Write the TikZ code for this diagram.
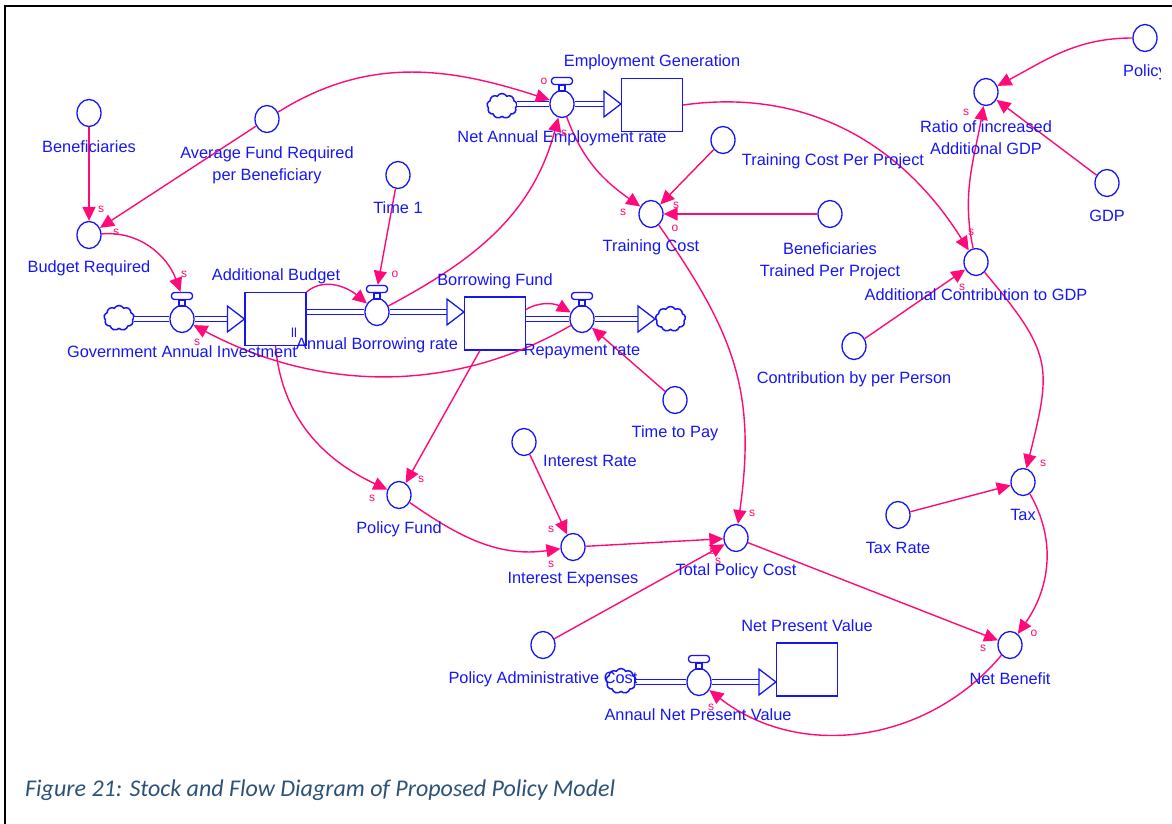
\documentclass[tikz,border=0pt]{standalone}
\usepackage{fontspec}
\setmainfont{Liberation Sans}
\newfontfamily\capfont{Carlito}
\usetikzlibrary{calc}
\usetikzlibrary{arrows.meta}
\usetikzlibrary{shapes.geometric,shapes.symbols}
\definecolor{flowblue}{RGB}{22,22,245}
\definecolor{linkpink}{RGB}{255,10,120}
\definecolor{capblue}{RGB}{44,82,120}
\tikzset{
 aux/.style={draw=flowblue, fill=white, line width=1.3pt, ellipse, inner sep=0, minimum width=24, minimum height=27},
 stock/.style={draw=flowblue, fill=white, line width=1.2pt, rectangle, inner sep=0, minimum width=61, minimum height=53},
 handle/.style={draw=flowblue, fill=white, line width=1.3pt, rectangle, rounded corners=3pt, inner sep=0, minimum width=21, minimum height=7},
 source/.style={draw=flowblue, line width=1.5pt, cloud, cloud puffs=9, cloud puff arc=120, aspect=1.3, inner sep=0, minimum width=30, minimum height=25},
 pipe/.style={draw=flowblue, line width=1.3pt, double=white, double distance=3.5pt},
 flowtip/.style={draw=flowblue, fill=white, line width=1.3pt},
 link/.style={draw=linkpink, line width=1.4pt, -{Triangle[length=14pt, width=13pt]}},
 varname/.style={text=flowblue, font=\fontsize{16.35}{22}\selectfont, align=center, inner sep=0, yshift=-1pt},
 polarity/.style={text=linkpink, font=\fontsize{12}{12}\selectfont, inner sep=0},
}
\begin{document}
\begin{tikzpicture}[x=1pt, y=-1pt]
\useasboundingbox (0,0) rectangle (1172,824);
\draw[black, line width=1.6pt] (5,824) -- (5,6) -- (1172,6);
\node[source] (cgai) at (119,318) {};
\node[source] (cnae) at (502,106) {};
\node[source] (crep) at (670.5,319) {};
\node[source] (cnpv) at (621,681) {};
\foreach \n/\x/\y in {gai/182/319, abr/377/312, rep/582/319, nae/562/104, anpv/699/682} {
 \node[aux] (\n) at (\x,\y) {};
 \node[handle] (\n-h) at (\x,\y-23) {};
 \draw[flowblue, line width=1.3pt] ($(\n-h.south)+(-3,0)$) rectangle ($(\n-h.south)+(3,6)$);
}
\foreach \n/\x/\y in {ab/275.5/319, bf/495/323.5, emp/652/105, npv/807/669.5} {
 \node[stock] (\n) at (\x,\y) {};
}
\foreach \a/\b in {cgai/gai, cnae/nae, cnpv/anpv, ab/abr, bf/rep} {
 \draw[pipe] (\a.east |- \b) -- (\b.west);
}
\foreach \a/\b in {gai/ab, abr/bf, nae/emp, anpv/npv} {
 \draw[pipe] (\a.east) -- ($(\a -| \b.west)+(-15,0)$);
 \draw[flowtip] ($(\a -| \b.west)+(-17,-13)$) -- (\a -| \b.west) -- ($(\a -| \b.west)+(-17,13)$) -- cycle;
}
\draw[pipe] (rep.east) -- ($(rep -| crep.west)+(-15,0)$);
\draw[flowtip] ($(rep -| crep.west)+(-17,-13)$) -- (rep -| crep.west) -- ($(rep -| crep.west)+(-17,13)$) -- cycle;
\foreach \n/\x/\y in {ben/89/113, avg/267/119, tim/398/175, bud/89/235, tc/651/214, tcp/723/140, btp/830/214, pf/399/495, ir/524/442, ie/573/547, tpc/736/538, pac/543/645, nb/1010/645, tax/1023/482, tr/898/515, ttp/675/400, con/854/346, acg/976/262, rat/986/92, gdp/1107/183, pol/1145/38} {
 \node[aux] (\n) at (\x,\y) {};
}
\foreach \a/\b in {ben/bud, avg/bud, tim/abr-h, tcp/tc, btp/tc, ttp/rep, bf/pf, ir/ie, ie/tpc, pac/tpc, tpc/nb, tr/tax, con/acg, gdp/rat} {
 \draw[link] (\a) -- (\b);
}
\draw[link] (bud) to[out=5, in=110] (gai-h);
\draw[link] (ab.north east) to[out=40, in=140] (abr);
\draw[link] (abr) to[out=28, in=-105] (nae);
\draw[link] (avg) to[out=32, in=162] (nae);
\draw[link] (nae) to[out=-70, in=145] (tc);
\draw[link] (emp.east) to[out=8, in=122] (acg);
\draw[link] (tc) to[out=-55, in=82, looseness=1.1] (tpc);
\draw[link] ([yshift=-13pt]bf.north east) to[out=30, in=150] (rep);
\draw[link] (rep) to[out=-150, in=-28, looseness=.95] (gai);
\draw[link] (ab.south) to[out=-85, in=155] (pf);
\draw[link] (pf) to[out=-35, in=-172] (ie);
\draw[link] (nb) to[out=-130, in=-38] (anpv);
\draw[link] (acg) to[out=-50, in=76, looseness=1.35] (tax);
\draw[link] (tax) to[out=-60, in=55] (nb);
\draw[link] (acg) to[out=102, in=-100] (rat);
\draw[link] (pol) to[out=180, in=28] (rat);
\foreach \n/\x/\y/\t in {lben/89/146/Beneficiaries, lavg/267/164/{Average Fund Required\\per Beneficiary}, ltime/398/207/Time 1, lbud/89/267/Budget Required, lgai/182/351/Government Annual Investment, lab/276/275/Additional Budget, labr/377/344/Annual Borrowing rate, lbf/495/280/Borrowing Fund, lrep/582/351/Repayment rate, lnae/562/137/Net Annual Employment rate, lemp/652/61/Employment Generation, ltc/651/246/Training Cost, ltcp/833/160/Training Cost Per Project, lbtp/830/260/{Beneficiaries\\Trained Per Project}, lpf/399/528/Policy Fund, lir/590/460/Interest Rate, lie/573/579/Interest Expenses, ltpc/736/570/Total Policy Cost, lpac/543/678/Policy Administrative Cost, lanpv/698/714/Annaul Net Present Value, lnpv/807/625/Net Present Value, lnb/1010/678/Net Benefit, ltax/1023/514/Tax, ltr/898/547/Tax Rate, lttp/675/432/Time to Pay, lcon/854/378/Contribution by per Person, lacg/976/294/Additional Contribution to GDP, lrat/986/137/{Ratio of increased\\Additional GDP}, lgdp/1107/215/GDP} {
 \node[varname] (\n) at (\x,\y) {\t};
}
\begin{scope}
\clip (0,0) rectangle (1160,824);
\node[varname] (lpol) at (1145,71) {Policy};
\end{scope}
\node[varname, font=\fontsize{13}{13}\selectfont] (lmark) at (294,332) {ll};
\foreach \x/\y/\t [count=\i] in {101/209/s, 116/232/s, 184/274/s, 395/274/o, 197/342/s, 544/81/o, 564/133/s, 623/212/s, 676/205/s, 675/228/o, 966/112/s, 971/232/s, 962/287/s, 1043/463/s, 1034/633/o, 983/648/s, 752/513/s, 712/551/s, 718/561/s, 551/529/s, 551/564/s, 421/479/s, 372/498/s, 711/707/s} {
 \node[polarity] (sign\i) at (\x,\y) {\t};
}
\node[text=capblue, font=\capfont\itshape\fontsize{24}{24}\selectfont, anchor=west, inner sep=0] (caption) at (25,790) {Figure 21: Stock and Flow Diagram of Proposed Policy Model};
\end{tikzpicture}
\end{document}
